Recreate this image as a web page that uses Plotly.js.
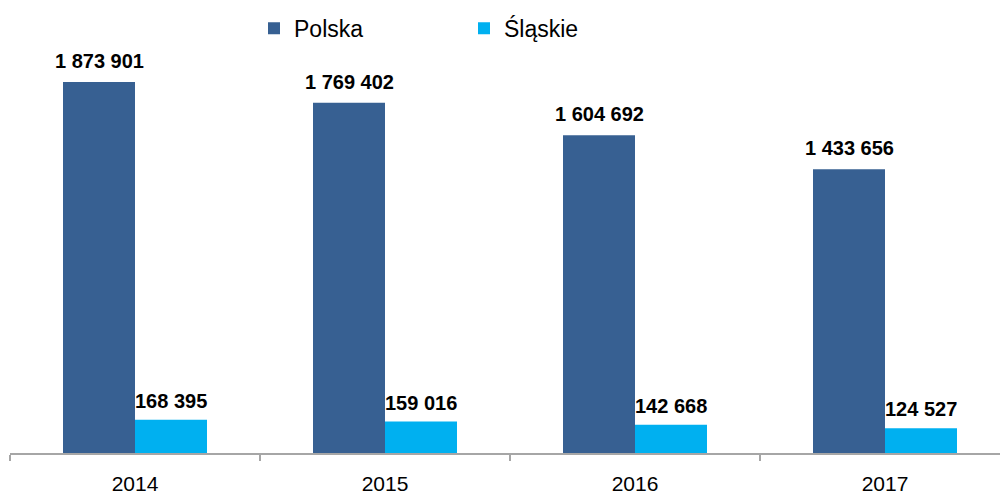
<!DOCTYPE html>
<html>
<head>
<meta charset="utf-8">
<script src="https://cdn.plot.ly/plotly-3.0.1.min.js"></script>
<style>html,body{margin:0;padding:0;background:#fff;}#chart{width:1000px;height:495px;}</style>
</head>
<body>
<div id="chart"></div>
<script>
const years = ['2014', '2015', '2016', '2017'];
const polska = [1873901, 1769402, 1604692, 1433656];
const slaskie = [168395, 159016, 142668, 124527];
const seriesNames = ['Polska', 'Śląskie'];
const colors = ['#376092', '#00B0F0'];

function fmt(v) {
  return String(v).replace(/\B(?=(\d{3})+(?!\d))/g, ' ');
}

const traces = [
  {type: 'bar', name: seriesNames[0], x: years, y: polska, marker: {color: colors[0]}, hoverinfo: 'skip'},
  {type: 'bar', name: seriesNames[1], x: years, y: slaskie, marker: {color: colors[1]}, hoverinfo: 'skip'}
];

const annotations = [];
[polska, slaskie].forEach((arr, si) => {
  arr.forEach((v, i) => {
    annotations.push({
      x: i, y: v, xref: 'x', yref: 'y',
      text: '<b>' + fmt(v) + '</b>', showarrow: false,
      xanchor: 'center', yanchor: 'bottom',
      xshift: si === 0 ? -36 : 36, yshift: si === 0 ? 8 : 6,
      font: {family: 'Liberation Sans, Arial, sans-serif', size: 20, color: '#000'}
    });
  });
});

const layout = {
  width: 1000, height: 495,
  margin: {l: 10, r: 0, t: 40, b: 42, pad: 0, autoexpand: false},
  paper_bgcolor: '#fff', plot_bgcolor: '#fff',
  font: {family: 'Liberation Sans, Arial, sans-serif', size: 20, color: '#000'},
  barmode: 'group', bargap: 0.424, bargroupgap: 0,
  showlegend: true,
  legend: {orientation: 'h', xref: 'container', yref: 'container',
           x: 0.254, y: 0.943, xanchor: 'left', yanchor: 'middle',
           entrywidth: 165, entrywidthmode: 'pixels',
           font: {size: 23, color: '#000'}},
  xaxis: {type: 'category', range: [-0.5, 3.46], tickson: 'boundaries',
          ticks: 'outside', ticklen: 6, tickcolor: '#A6A6A6', tickwidth: 1.5,
          ticklabelstandoff: 11,
          showline: true, linecolor: '#A6A6A6', linewidth: 1.5,
          showgrid: false, zeroline: false, fixedrange: true,
          tickfont: {size: 21, color: '#000'}},
  yaxis: {range: [0, 2086000], visible: true, showticklabels: false, showline: false,
          ticks: '', showgrid: false, zeroline: false, fixedrange: true},
  annotations: annotations
};

Plotly.newPlot('chart', traces, layout, {displayModeBar: false, staticPlot: true});
</script>
</body>
</html>
